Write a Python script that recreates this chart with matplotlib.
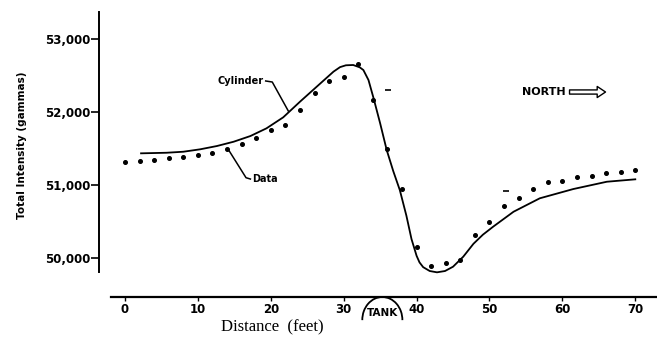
import matplotlib
matplotlib.use("Agg")
import matplotlib.pyplot as plt
from matplotlib.patches import Arc

# measured data (dots), distance in feet, total intensity in gammas
data_x = [0, 2, 4, 6, 8, 10, 12, 14, 16, 18, 20, 22, 24, 26, 28, 30, 32,
          34, 36, 38, 40, 42, 44, 46, 48, 50, 52, 54, 56, 58, 60, 62, 64, 66, 68, 70]
data_y = [51320, 51333, 51342, 51366, 51379, 51407, 51442, 51489, 51562, 51640, 51753,
          51826, 52027, 52264, 52425, 52484, 52653,
          52164, 51493, 50945, 50155, 49890, 49936, 49973, 50315, 50497, 50712,
          50818, 50945, 51037, 51059, 51105, 51123, 51160, 51174, 51205]

# stray marks on the original plate
stray_x = [36.1, 52.2]
stray_y = [52301, 50918]

# cylinder model curve
cyl_x = [2.2, 5.7, 8.0, 10.3, 12.6, 14.9, 17.2, 19.4, 21.7, 24.0, 26.3, 28.6, 29.5,
         30.3, 31.3, 32.2, 32.7, 33.4, 34.1, 35.0, 35.9, 36.8, 37.7, 38.6, 39.3, 40.0,
         40.4, 40.9, 41.8, 42.8, 43.9, 45.0, 46.4, 47.8, 49.1, 50.5, 53.3, 56.9, 61.5,
         66.1, 70.0]
cyl_y = [51434, 51442, 51456, 51489, 51534, 51593, 51671, 51776, 51927, 52141, 52347,
         52553, 52615, 52640, 52644, 52612, 52575, 52438, 52188, 51845, 51479, 51190,
         50930, 50580, 50260, 50030, 49940, 49875, 49822, 49804, 49822, 49881, 50018,
         50195, 50320, 50429, 50634, 50818, 50945, 51045, 51078]

x_ticks = [0, 10, 20, 30, 40, 50, 60, 70]
y_ticks = [50000, 51000, 52000, 53000]
y_labels = ['50,000', '51,000', '52,000', '53,000']

W, H = 657, 341
fig = plt.figure(figsize=(W / 100, H / 100), dpi=100)
ax = fig.add_axes([99 / W, 1 - 297 / H, 558 / W, 285 / H])

ax.plot(cyl_x, cyl_y, color='black', lw=1.3, zorder=3)
ax.plot(data_x, data_y, 'o', color='black', ms=2.6, zorder=4)
ax.plot(stray_x, stray_y, '_', color='black', ms=4, mew=1.2)

ax.set_xlim(-3.57, 72.98)
ax.set_ylim(49466, 53370)

for s in ['top', 'right']:
    ax.spines[s].set_visible(False)
ax.spines['left'].set_bounds(49808, 53370)
ax.spines['bottom'].set_bounds(-1.9, 72.98)
ax.spines['left'].set_linewidth(1.4)
ax.spines['bottom'].set_linewidth(1.6)

ax.set_xticks(x_ticks)
ax.set_xticklabels([str(t) for t in x_ticks], fontsize=8.5, fontweight='bold')
ax.set_yticks(y_ticks)
ax.set_yticklabels(y_labels, fontsize=8.5, fontweight='bold')
ax.tick_params(axis='y', length=6, width=1.2, pad=0.5)
ax.tick_params(axis='x', length=3, width=1, pad=1.5)

# tank symbol on the distance axis
tank_x, tank_y = 35.3, 49151
ax.add_patch(Arc((tank_x, tank_y), width=5.5, height=630, theta1=-35, theta2=215,
                 color='black', lw=1.3, clip_on=False, zorder=5))
ax.text(tank_x, 49240, 'TANK', ha='center', va='center', fontsize=7.5,
        fontweight='bold', clip_on=False)

# labels with leader lines
ax.text(19.0, 52425, 'Cylinder', ha='right', va='center', fontsize=7, fontweight='bold')
ax.plot([19.3, 20.2, 22.4], [52425, 52411, 52014], color='black', lw=1.1)
ax.text(17.4, 51082, 'Data', ha='left', va='center', fontsize=7, fontweight='bold')
ax.plot([17.2, 16.6, 14.3], [51082, 51100, 51466], color='black', lw=1.1)

ax.text(60.4, 52274, 'NORTH', ha='right', va='center', fontsize=8, fontweight='bold')
ax.annotate('', xy=(66.3, 52274), xytext=(60.6, 52274),
            arrowprops=dict(arrowstyle='simple,head_length=0.6,head_width=0.8,tail_width=0.3',
                            fc='white', ec='black', lw=1))

fig.text(22 / W, 1 - 145 / H, 'Total Intensity (gammas)', rotation=90,
         ha='center', va='center', fontsize=7.5, fontweight='bold')
fig.text(272 / W, 1 - 327 / H, 'Distance  (feet)', ha='center', va='center',
         fontsize=12, family='Liberation Serif')

fig.savefig('out.png', dpi=100)
